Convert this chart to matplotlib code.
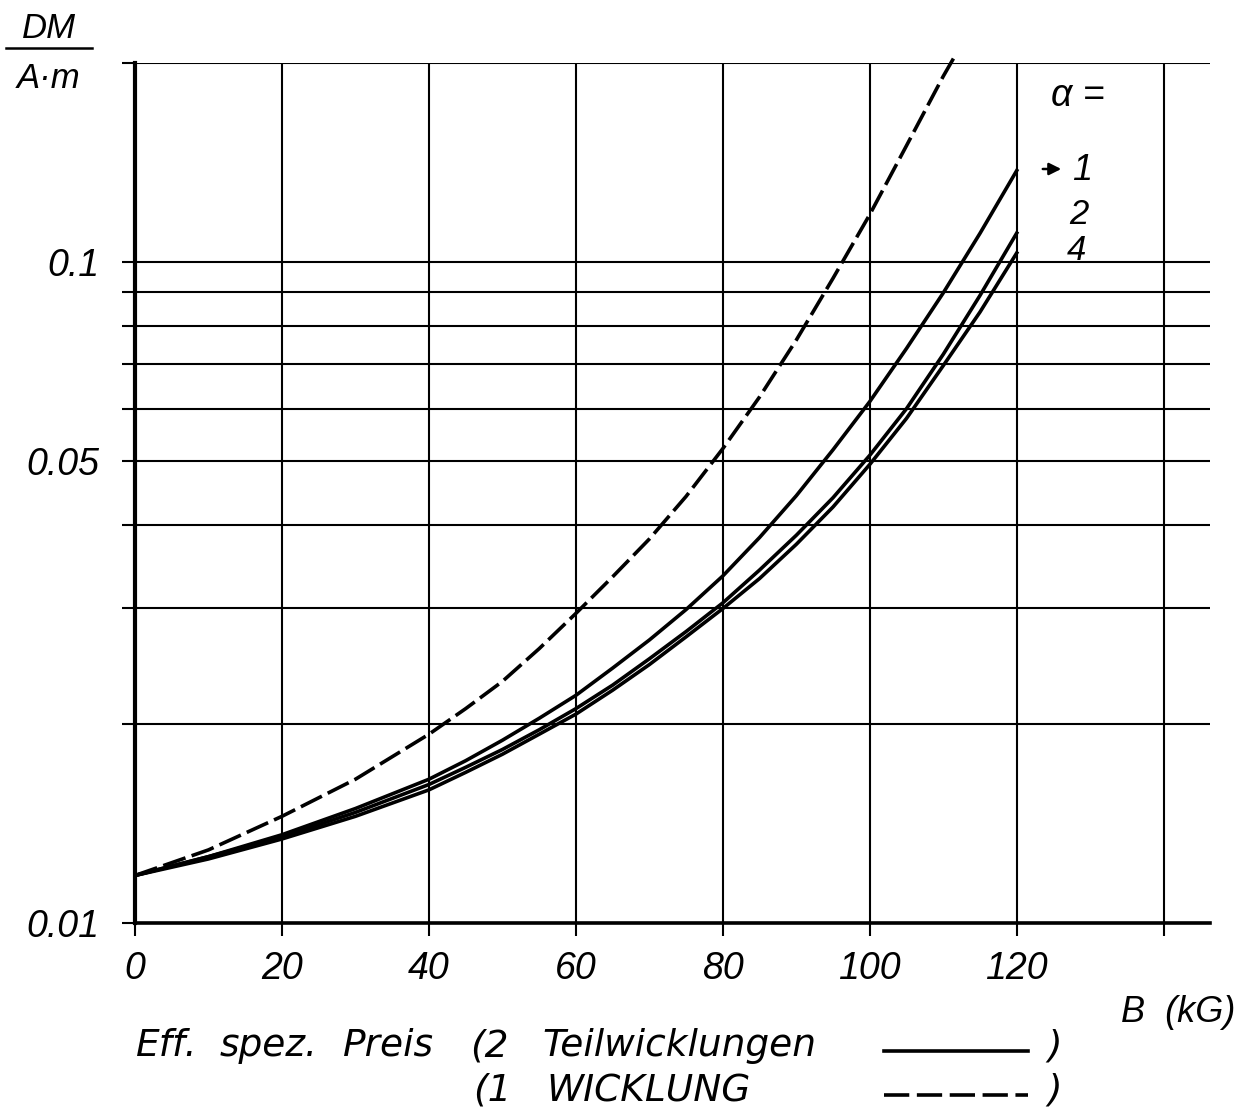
import matplotlib
matplotlib.use('Agg')
import matplotlib.pyplot as plt
from matplotlib.lines import Line2D
from matplotlib.ticker import FixedLocator, NullFormatter, NullLocator

# values (B in kG, price in DM/(A*m))
B_solid = [0, 10, 20, 30, 40, 45, 50, 55, 60, 65, 70, 75, 80, 85, 90, 95, 100, 105, 110, 115, 120]
alpha_1 = [0.0118, 0.0126, 0.0136, 0.0149, 0.0165, 0.0176, 0.0189, 0.0204, 0.0221, 0.0243, 0.0268,
           0.0298, 0.0335, 0.0383, 0.0443, 0.0520, 0.0615, 0.0740, 0.0898, 0.1105, 0.1375]
alpha_2 = [0.0118, 0.0126, 0.0135, 0.0147, 0.0162, 0.0172, 0.0183, 0.0196, 0.0211, 0.0229, 0.0251,
           0.0276, 0.0305, 0.0342, 0.0386, 0.0440, 0.0510, 0.0600, 0.0725, 0.0890, 0.1106]
alpha_4 = [0.0118, 0.0125, 0.0134, 0.0145, 0.0159, 0.0169, 0.0180, 0.0193, 0.0207, 0.0225, 0.0246,
           0.0271, 0.0299, 0.0332, 0.0374, 0.0426, 0.0494, 0.0580, 0.0697, 0.0840, 0.1032]

B_dash = [0, 10, 20, 30, 40, 45, 50, 55, 60, 65, 70, 75, 80, 85, 90, 95, 100, 105, 110, 111.7]
one_winding = [0.0118, 0.0129, 0.0145, 0.0165, 0.0193, 0.0211, 0.0232, 0.0260, 0.0294, 0.0334,
               0.0381, 0.0442, 0.0522, 0.0625, 0.0762, 0.0945, 0.118, 0.150, 0.191, 0.206]

x_ticks = [0, 20, 40, 60, 80, 100, 120, 140]
x_labels = ['0', '20', '40', '60', '80', '100', '120', '']
y_major = [0.01, 0.05, 0.1]
y_labels = ['0.01', '0.05', '0.1']
y_minor = [0.02, 0.03, 0.04, 0.06, 0.07, 0.08, 0.09, 0.2]

plt.rcParams['font.family'] = ['Liberation Sans', 'DejaVu Sans']
plt.rcParams['font.style'] = 'italic'

W, H = 1245, 1113


def px(x, y):
    # pixel position -> figure fraction
    return x / W, 1 - y / H


fig = plt.figure(figsize=(W / 100, H / 100), dpi=100)
ax = fig.add_axes([135 / W, 1 - 923 / H, (1210 - 135) / W, (923 - 63) / H])

ax.set_yscale('log')
ax.set_xlim(0, 146.3)
ax.set_ylim(0.01, 0.2)

ax.xaxis.set_major_locator(FixedLocator(x_ticks))
ax.xaxis.set_minor_locator(NullLocator())
ax.set_xticklabels(x_labels)
ax.yaxis.set_major_locator(FixedLocator(y_major))
ax.set_yticklabels(y_labels)
ax.yaxis.set_minor_locator(FixedLocator(y_minor))
ax.yaxis.set_minor_formatter(NullFormatter())

ax.grid(True, which='both', color='black', lw=1.5)
ax.tick_params(which='both', direction='out', length=9.5, width=1.5, color='black')
ax.tick_params(axis='x', labelsize=27, pad=11)
ax.tick_params(axis='y', labelsize=27, pad=16)

for s in ['top', 'right']:
    ax.spines[s].set_visible(False)
ax.spines['left'].set_linewidth(3.0)
ax.spines['bottom'].set_linewidth(2.6)

# curves
ax.plot(B_solid, alpha_1, color='black', lw=2.6, zorder=3)
ax.plot(B_solid, alpha_2, color='black', lw=2.6, zorder=3)
ax.plot(B_solid, alpha_4, color='black', lw=2.6, zorder=3)
ax.plot(B_dash, one_winding, color='black', lw=2.6, ls=(0, (6.5, 1.8)),
        zorder=3, clip_on=False)

# y label as fraction
fig.text(*px(49, 28), 'DM', ha='center', va='center', size=25)
fig.add_artist(Line2D([6 / W, 92 / W], [1 - 48 / H] * 2, color='black', lw=1.8,
                      transform=fig.transFigure))
fig.text(*px(49, 78), 'A·m', ha='center', va='center', size=25)

# alpha labels
fig.text(*px(1078, 96), 'α =', ha='center', va='center', size=27)
fig.text(*px(1082, 170), '1', ha='center', va='center', size=26)
fig.text(*px(1079, 215), '2', ha='center', va='center', size=25)
fig.text(*px(1076, 251), '4', ha='center', va='center', size=25)
ax.annotate('', xy=px(1064, 169), xytext=px(1040, 169),
            xycoords='figure fraction', textcoords='figure fraction',
            arrowprops=dict(arrowstyle='-|>', color='black', lw=1.8, mutation_scale=18))

fig.text(*px(1178, 1013), 'B  (kG)', ha='center', va='center', size=26)

# legend at bottom, lettered word by word like the drawing
row1 = [('Eff.', 136), ('spez.', 220), ('Preis', 343), ('(2', 470), ('Teilwicklungen', 542)]
row2 = [('(1', 473), ('WICKLUNG', 546)]
for word, x in row1:
    fig.text(*px(x, 1046), word, ha='left', va='center', size=27, family='DejaVu Sans')
for word, x in row2:
    fig.text(*px(x, 1091), word, ha='left', va='center', size=27, family='DejaVu Sans')

fig.add_artist(Line2D([884 / W, 1028 / W], [1 - 1051 / H] * 2, color='black', lw=2.6,
                      transform=fig.transFigure))
fig.add_artist(Line2D([884 / W, 1028 / W], [1 - 1095 / H] * 2, color='black', lw=2.6,
                      ls=(0, (7.0, 2.1)), transform=fig.transFigure))
fig.text(*px(1055, 1046), ')', ha='center', va='center', size=27, family='DejaVu Sans')
fig.text(*px(1055, 1091), ')', ha='center', va='center', size=27, family='DejaVu Sans')

fig.savefig('out.png', dpi=100)
